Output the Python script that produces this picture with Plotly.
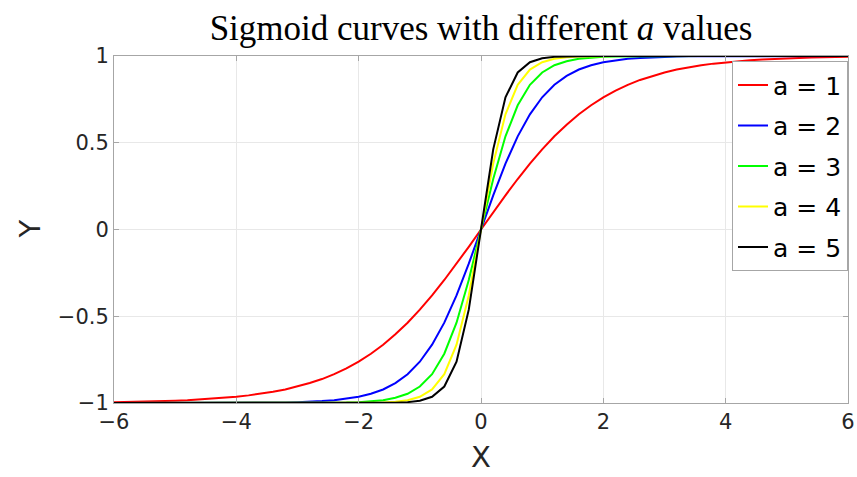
import plotly.graph_objects as go

x_values = [-6.0, -5.8, -5.6, -5.4, -5.2, -5.0, -4.8, -4.6, -4.4, -4.2,
            -4.0, -3.8, -3.6, -3.4, -3.2, -3.0, -2.8, -2.6, -2.4, -2.2,
            -2.0, -1.8, -1.6, -1.4, -1.2, -1.0, -0.8, -0.6, -0.4, -0.2,
            0.0,
            0.2, 0.4, 0.6, 0.8, 1.0, 1.2, 1.4, 1.6, 1.8, 2.0,
            2.2, 2.4, 2.6, 2.8, 3.0, 3.2, 3.4, 3.6, 3.8, 4.0,
            4.2, 4.4, 4.6, 4.8, 5.0, 5.2, 5.4, 5.6, 5.8, 6.0]

y_a1 = [-0.995, -0.994, -0.993, -0.991, -0.989, -0.987, -0.984, -0.980, -0.976, -0.971,
        -0.964, -0.956, -0.947, -0.935, -0.922, -0.905, -0.885, -0.862, -0.834, -0.801,
        -0.762, -0.716, -0.664, -0.604, -0.537, -0.462, -0.380, -0.291, -0.197, -0.100,
        0.0,
        0.100, 0.197, 0.291, 0.380, 0.462, 0.537, 0.604, 0.664, 0.716, 0.762,
        0.801, 0.834, 0.862, 0.885, 0.905, 0.922, 0.935, 0.947, 0.956, 0.964,
        0.971, 0.976, 0.980, 0.984, 0.987, 0.989, 0.991, 0.993, 0.994, 0.995]

y_a2 = [-1.0, -1.0, -1.0, -1.0, -1.0, -1.0, -1.0, -1.0, -1.0, -1.0,
        -0.999, -0.999, -0.998, -0.998, -0.997, -0.995, -0.993, -0.989, -0.984, -0.976,
        -0.964, -0.947, -0.922, -0.885, -0.834, -0.762, -0.664, -0.537, -0.380, -0.197,
        0.0,
        0.197, 0.380, 0.537, 0.664, 0.762, 0.834, 0.885, 0.922, 0.947, 0.964,
        0.976, 0.984, 0.989, 0.993, 0.995, 0.997, 0.998, 0.998, 0.999, 0.999,
        1.0, 1.0, 1.0, 1.0, 1.0, 1.0, 1.0, 1.0, 1.0, 1.0]

y_a3 = [-1.0, -1.0, -1.0, -1.0, -1.0, -1.0, -1.0, -1.0, -1.0, -1.0,
        -1.0, -1.0, -1.0, -1.0, -1.0, -1.0, -0.999, -0.999, -0.998, -0.997,
        -0.995, -0.991, -0.984, -0.970, -0.947, -0.905, -0.834, -0.716, -0.537, -0.291,
        0.0,
        0.291, 0.537, 0.716, 0.834, 0.905, 0.947, 0.970, 0.984, 0.991, 0.995,
        0.997, 0.998, 0.999, 0.999, 1.0, 1.0, 1.0, 1.0, 1.0, 1.0,
        1.0, 1.0, 1.0, 1.0, 1.0, 1.0, 1.0, 1.0, 1.0, 1.0]

y_a4 = [-1.0, -1.0, -1.0, -1.0, -1.0, -1.0, -1.0, -1.0, -1.0, -1.0,
        -1.0, -1.0, -1.0, -1.0, -1.0, -1.0, -1.0, -1.0, -1.0, -1.0,
        -0.999, -0.999, -0.997, -0.993, -0.984, -0.964, -0.922, -0.834, -0.664, -0.380,
        0.0,
        0.380, 0.664, 0.834, 0.922, 0.964, 0.984, 0.993, 0.997, 0.999, 0.999,
        1.0, 1.0, 1.0, 1.0, 1.0, 1.0, 1.0, 1.0, 1.0, 1.0,
        1.0, 1.0, 1.0, 1.0, 1.0, 1.0, 1.0, 1.0, 1.0, 1.0]

y_a5 = [-1.0, -1.0, -1.0, -1.0, -1.0, -1.0, -1.0, -1.0, -1.0, -1.0,
        -1.0, -1.0, -1.0, -1.0, -1.0, -1.0, -1.0, -1.0, -1.0, -1.0,
        -1.0, -1.0, -0.999, -0.998, -0.995, -0.987, -0.964, -0.905, -0.762, -0.462,
        0.0,
        0.462, 0.762, 0.905, 0.964, 0.987, 0.995, 0.998, 0.999, 1.0, 1.0,
        1.0, 1.0, 1.0, 1.0, 1.0, 1.0, 1.0, 1.0, 1.0, 1.0,
        1.0, 1.0, 1.0, 1.0, 1.0, 1.0, 1.0, 1.0, 1.0, 1.0]

series_names = ["a = 1", "a = 2", "a = 3", "a = 4", "a = 5"]
series_values = [y_a1, y_a2, y_a3, y_a4, y_a5]
series_colors = ["#ff0000", "#0000ff", "#00ff00", "#ffff00", "#000000"]

x_ticks = [-6, -4, -2, 0, 2, 4, 6]
y_ticks = [-1, -0.5, 0, 0.5, 1]

fig = go.Figure()
for i, (name, vals, col) in enumerate(zip(series_names, series_values, series_colors)):
    fig.add_trace(go.Scatter(x=x_values, y=vals, mode="lines", name=name,
                             legendgroup=f"g{i}",
                             line=dict(color=col, width=2)))

axis_col = "#a6a6a6"
tick_font = dict(family="DejaVu Sans", size=21, color="#262626")
label_font = dict(family="DejaVu Sans", size=29, color="#262626")

fig.update_layout(
    width=857, height=477,
    margin=dict(l=114, r=9, t=56, b=74),
    paper_bgcolor="white", plot_bgcolor="white",
    title=dict(text="Sigmoid curves with different <i>a</i> values",
               font=dict(family="Liberation Serif", size=35, color="#000000"),
               x=0.5, xref="paper", xanchor="center",
               y=1 - 28 / 477, yref="container", yanchor="middle"),
    showlegend=True,
    legend=dict(x=1, xanchor="right", y=0.985, yanchor="top",
                bgcolor="white", bordercolor=axis_col, borderwidth=1,
                font=dict(family="DejaVu Sans", size=25, color="#000000"),
                traceorder="grouped", tracegroupgap=5, itemwidth=30),
    xaxis=dict(range=[-6, 6], tickvals=x_ticks, showgrid=True, gridcolor="#e8e8e8",
               zeroline=False, showline=True, linecolor=axis_col, linewidth=1, mirror="ticks",
               ticks="inside", ticklen=5, tickcolor=axis_col, tickfont=tick_font,
               automargin=False),
    yaxis=dict(range=[-1, 1], tickvals=y_ticks, showgrid=True, gridcolor="#e8e8e8",
               zeroline=False, showline=True, linecolor=axis_col, linewidth=1, mirror="ticks",
               ticks="inside", ticklen=5, tickcolor=axis_col, tickfont=tick_font,
               automargin=False),
    annotations=[
        dict(text="X", xref="paper", yref="paper", x=0.5, y=-(476 - 403) / 347,
             xanchor="center", yanchor="bottom", showarrow=False, font=label_font),
        dict(text="Y", xref="paper", yref="paper", x=(29 - 114) / 734, y=0.5,
             xanchor="center", yanchor="middle", showarrow=False, textangle=-90,
             font=label_font),
    ],
)

fig.write_html("out.html")
